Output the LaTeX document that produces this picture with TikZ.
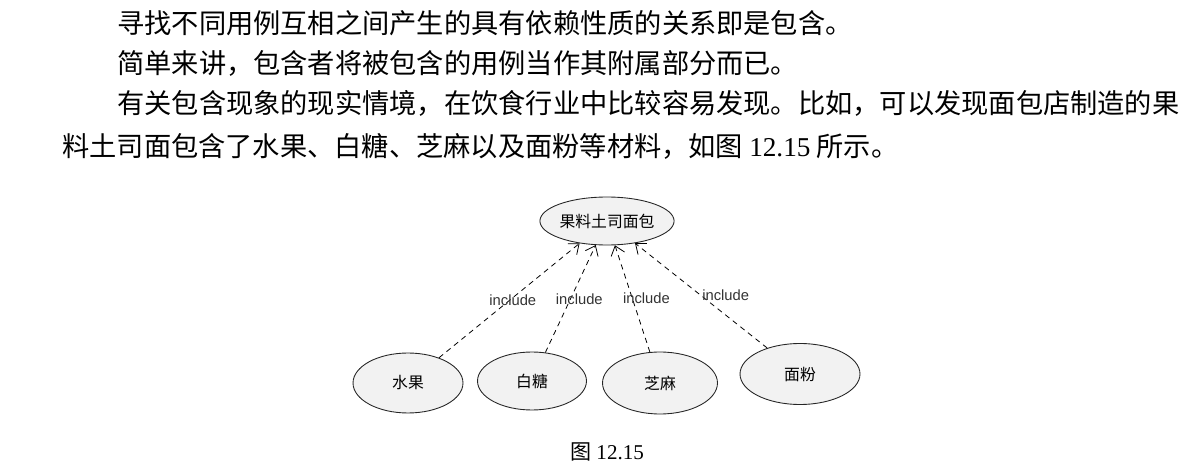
\documentclass[tikz,border=0pt]{standalone}
\usepackage{fontspec}
\setmainfont{Liberation Serif}
\newfontfamily\cjk{Noto Sans CJK SC}
\newfontfamily\lab{Liberation Sans}
\usetikzlibrary{shapes.geometric,arrows.meta}

\begin{document}
\begin{tikzpicture}[x=0.02cm,y=-0.02cm,
	para/.style={anchor=base west,inner sep=0pt,font=\cjk\fontsize{15.5}{18}\selectfont},
	usecase/.style={ellipse,draw=black!85,line width=0.5pt,fill=black!5,inner sep=0pt,font=\cjk\fontsize{9}{11}\selectfont},
	inc/.style={dash pattern=on 3pt off 2.5pt,line width=0.45pt,-{Straight Barb[length=5pt,width=8pt]}},
	inclabel/.style={font=\lab\fontsize{8.4}{10}\selectfont,text=black!80,inner sep=1pt}]
	\useasboundingbox (0,0) rectangle (1198,476);
	% text above the figure
	\node[para] (p1) at (117,34) {寻找不同用例互相之间产生的具有依赖性质的关系即是包含。};
	\node[para] (p2) at (117,74) {简单来讲，包含者将被包含的用例当作其附属部分而已。};
	\node[para] (p3) at (117,114) {有关包含现象的现实情境，在饮食行业中比较容易发现。比如，可以发现面包店制造的果};
	\node[para] (p4) at (62,157) {料土司面包含了水果、白糖、芝麻以及面粉等材料，如图 {\rmfamily 12.15} 所示。};
	% use cases
	\node[usecase,minimum width=2.5cm,minimum height=0.96cm] (bread) at (607,221) {果料土司面包};
	\node[usecase,minimum width=2.2cm,minimum height=1.2cm] (fruit) at (408,383) {水果};
	\node[usecase,minimum width=2.18cm,minimum height=1.16cm] (sugar) at (532,381) {白糖};
	\node[usecase,minimum width=2.3cm,minimum height=1.24cm] (sesame) at (660,383) {芝麻};
	\node[usecase,minimum width=2.4cm,minimum height=1.22cm] (flour) at (800,374) {面粉};
	\draw[inc] (fruit) -- node[inclabel,xshift=2] {include} (bread);
	\draw[inc] (sugar) -- node[inclabel,xshift=5] {include} (bread);
	\draw[inc] (sesame) -- node[inclabel,xshift=8] {include} (bread);
	\draw[inc] (flour) -- node[inclabel,xshift=14] {include} (bread);
	\node[font=\fontsize{12}{14}\selectfont] (cap) at (607,452) {{\cjk 图} 12.15};
\end{tikzpicture}
\end{document}
